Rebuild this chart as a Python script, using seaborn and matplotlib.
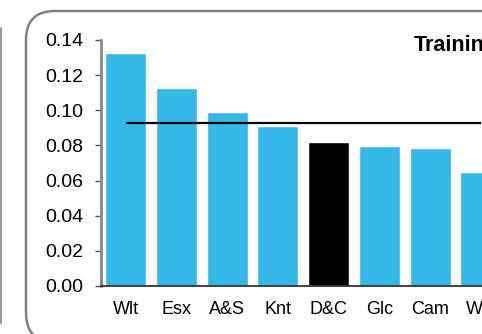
import matplotlib
matplotlib.use("Agg")
import matplotlib.pyplot as plt
import seaborn as sns
import pandas as pd
from matplotlib.patches import FancyBboxPatch
from matplotlib.lines import Line2D

categories = ["Wlt", "Esx", "A&S", "Knt", "D&C", "Glc", "Cam", "Ww"]
values = [0.1324, 0.1127, 0.0990, 0.0911, 0.0820, 0.0797, 0.0785, 0.0649]
average = [0.0929] * len(categories)
highlight = "D&C"
title_text = "Training"
yticks = [0.00, 0.02, 0.04, 0.06, 0.08, 0.10, 0.12, 0.14]

sns.set_theme(style="white")
plt.rcParams["font.family"] = ["Liberation Sans", "DejaVu Sans"]

W, H = 482, 334
fig = plt.figure(figsize=(W / 100, H / 100), dpi=100)

unit = 50.7
left_px, bottom_px, top_px = 100.5, 286, 40
ax = fig.add_axes([left_px / W, (H - bottom_px) / H,
                   unit * len(categories) / W, (bottom_px - top_px) / H])

df = pd.DataFrame({"cat": categories, "val": values})
palette = {c: ("#000000" if c == highlight else "#33B8E8") for c in categories}
sns.barplot(data=df, x="cat", y="val", hue="cat", palette=palette, legend=False,
            width=0.81, saturation=1, ax=ax, zorder=2)
ax.plot(range(len(categories)), average, color="black", lw=1.6, zorder=3,
        solid_capstyle="butt")

ax.set_xlim(-0.5, len(categories) - 0.5)
ax.set_ylim(0, 0.14)
ax.set_yticks(yticks)
ax.set_yticklabels([f"{v:.2f}" for v in yticks])
ax.set_xlabel("")
ax.set_ylabel("")
for s in ["top", "right"]:
    ax.spines[s].set_visible(False)
ax.spines["left"].set_color("#888888")
ax.spines["left"].set_linewidth(2)
ax.spines["bottom"].set_color("#333333")
ax.spines["bottom"].set_linewidth(1.3)
ax.spines["bottom"].set_zorder(4)
ax.tick_params(axis="y", left=True, length=4.5, width=1, color="#555555",
               pad=8, labelsize=14, labelcolor="black")
ax.tick_params(axis="x", bottom=False, length=0, pad=11, labelsize=13,
               labelcolor="black")

fig.text(414 / W, 1 - 46 / H, title_text, fontsize=15.5, fontweight="bold",
         ha="left", va="center", color="black")

# rounded panel border
box = FancyBboxPatch((26 / W, 1 - 342 / H), 560 / W, (342 - 11) / H,
                     boxstyle="round,pad=0,rounding_size=0.06",
                     transform=fig.transFigure, fill=False,
                     edgecolor="#808080", lw=1.8, mutation_aspect=W / H)
fig.add_artist(box)
fig.add_artist(Line2D([1.2 / W, 1.2 / W], [1 - 323 / H, 1 - 28 / H],
                      transform=fig.transFigure, color="#999999", lw=1.5))

fig.savefig("out.png", dpi=100)
